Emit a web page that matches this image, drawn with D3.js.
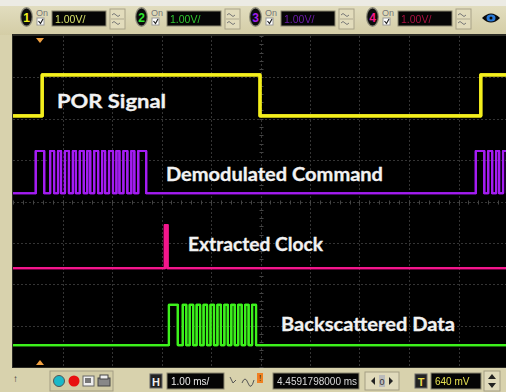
<!DOCTYPE html>
<html><head><meta charset="utf-8">
<script src="https://cdn.jsdelivr.net/npm/d3@7"></script>
<style>html,body{margin:0;padding:0;background:#d9d3ae;overflow:hidden}</style>
</head><body><svg id="scope" width="506" height="392"></svg>
<script>
// ---- Scope setup: 1.00 ms/div horizontally, 8 vertical divisions ----
const timeTicks = d3.range(0, 11);          // ms, one per division
const divTicks = d3.range(-4, 5);           // vertical divisions
const channelNumbers = ["1", "2", "3", "4"];
const channelScales = ["1.00V/", "1.00V/", "1.00V/", "1.00V/"];
const channelColors = ["#f2f01c", "#2ee62e", "#a41cf2", "#f3168c"];     // scope channel colours
const channelTextColors = ["#d6e06a", "#2fc42f", "#6a1ca6", "#a8123f"];
const traceNames = ["POR Signal", "Demodulated Command", "Extracted Clock", "Backscattered Data"];
const traceColors = ["#f4ef1c", "#a41cf2", "#f3168c", "#3cf21c"];
const timebaseText = "1.00 ms/";
const delayText = "4.4591798000 ms";
const triggerText = "640 mV";

// trace levels [low, high] in divisions
const porLevels = [2.07, 3.06];
const cmdLevels = [0.20, 1.22];
const clkLevels = [-1.61, -0.57];
const dataLevels = [-3.47, -2.50];

// intervals [start, end] (ms) during which each trace is high
const porHigh = [[0.59, 4.99], [9.45, 10.3]];
const cmdHigh = [[0.46, 0.63],
  [0.75, 0.83], [0.91, 0.97], [1.05, 1.13], [1.21, 1.27], [1.35, 1.43], [1.50, 1.56],
  [1.64, 1.72], [1.80, 1.86], [1.94, 2.02], [2.09, 2.15], [2.23, 2.31], [2.39, 2.45],
  [2.53, 2.69],
  [9.35, 9.52],
  [9.60, 9.68], [9.76, 9.82], [9.90, 9.98], [10.05, 10.3]];
const clkHigh = [[3.07, 3.12]];
const dataHigh = [[3.15, 3.33],
  [3.43, 3.50], [3.57, 3.64], [3.71, 3.78], [3.85, 3.92], [3.99, 4.06], [4.13, 4.20],
  [4.27, 4.34], [4.41, 4.48], [4.55, 4.62], [4.69, 4.76], [4.83, 4.91]];

const traces = [
  {levels: porLevels, high: porHigh, width: 3.2},
  {levels: cmdLevels, high: cmdHigh, width: 2.2},
  {levels: clkLevels, high: clkHigh, width: 2.4},
  {levels: dataLevels, high: dataHigh, width: 2.2}
];

// ---- layout ----
const W = 506, H = 392;
const screen = {left: 13, top: 36, right: 508, bottom: 367};
const x = d3.scaleLinear().domain([0, 10]).range([screen.left, screen.right]);
const y = d3.scaleLinear().domain([-4, 4]).range([screen.bottom, screen.top]);

const svg = d3.select("#scope");
const defs = svg.append("defs");

const beigeGrad = defs.append("linearGradient").attr("id", "bezel").attr("x1", 0).attr("y1", 0).attr("x2", 0).attr("y2", 1);
beigeGrad.append("stop").attr("offset", "0%").attr("stop-color", "#e4e0c4");
beigeGrad.append("stop").attr("offset", "100%").attr("stop-color", "#d4cda6");

const glow = defs.append("filter").attr("id", "glow").attr("x", "-5%").attr("y", "-20%").attr("width", "110%").attr("height", "140%");
glow.append("feGaussianBlur").attr("stdDeviation", 0.7).attr("result", "b");
const fm = glow.append("feMerge");
fm.append("feMergeNode").attr("in", "b");
fm.append("feMergeNode").attr("in", "SourceGraphic");

const soft = defs.append("filter").attr("id", "soft");
soft.append("feGaussianBlur").attr("stdDeviation", 0.35);

// bezel
svg.append("rect").attr("width", W).attr("height", H).attr("fill", "#d8d2ad");
svg.append("rect").attr("x", 0).attr("y", 0).attr("width", W).attr("height", 35).attr("fill", "url(#bezel)");
svg.append("rect").attr("x", 0).attr("y", 0).attr("width", W).attr("height", 6).attr("fill", "#ecebe4");

// screen
svg.append("rect").attr("x", screen.left - 1).attr("y", screen.top - 2).attr("width", W - screen.left + 1).attr("height", screen.bottom - screen.top + 3).attr("fill", "#2a2a24");
svg.append("rect").attr("x", screen.left).attr("y", screen.top).attr("width", W - screen.left).attr("height", screen.bottom - screen.top).attr("fill", "#000");

// grid
const grid = svg.append("g").attr("stroke", "#343434").attr("stroke-width", 1);
grid.selectAll("line.v").data(timeTicks.slice(1, 10)).join("line")
  .attr("x1", d => Math.round(x(d)) + 0.5).attr("x2", d => Math.round(x(d)) + 0.5)
  .attr("y1", screen.top).attr("y2", screen.bottom)
  .attr("stroke-dasharray", "2,2");
grid.selectAll("line.h").data(divTicks.slice(1, 8)).join("line")
  .attr("y1", d => Math.round(y(d)) + 0.5).attr("y2", d => Math.round(y(d)) + 0.5)
  .attr("x1", screen.left).attr("x2", W)
  .attr("stroke-dasharray", "2,2");
// minor ticks on the centre axes
const minorT = d3.range(0, 10.01, 0.2);
grid.selectAll("line.mt").data(minorT).join("line")
  .attr("x1", d => Math.round(x(d)) + 0.5).attr("x2", d => Math.round(x(d)) + 0.5)
  .attr("y1", Math.round(y(0)) - 1.5).attr("y2", Math.round(y(0)) + 2.5)
  .attr("stroke", "#444");
const minorV = d3.range(-4, 4.01, 0.2);
grid.selectAll("line.mv").data(minorV).join("line")
  .attr("y1", d => Math.round(y(d)) + 0.5).attr("y2", d => Math.round(y(d)) + 0.5)
  .attr("x1", Math.round(x(5)) - 1.5).attr("x2", Math.round(x(5)) + 2.5)
  .attr("stroke", "#444");

// traces
function stepPoints(t) {
  const [lo, hi] = t.levels;
  const pts = [[-0.3, lo]];
  t.high.forEach(([s, e]) => {
    pts.push([s, lo], [s, hi], [e, hi], [e, lo]);
  });
  pts.push([10.3, lo]);
  return pts;
}
const line = d3.line().x(d => x(d[0])).y(d => y(d[1]));
defs.append("clipPath").attr("id", "screenClip").append("rect")
  .attr("x", screen.left).attr("y", screen.top).attr("width", W - screen.left).attr("height", screen.bottom - screen.top);
const traceG = svg.append("g").attr("clip-path", "url(#screenClip)");
traceG.selectAll("path.trace").data(traces).join("path")
  .attr("class", "trace")
  .attr("d", d => line(stepPoints(d)))
  .attr("fill", "none")
  .attr("stroke", (d, i) => traceColors[i])
  .attr("stroke-width", d => d.width)
  .attr("stroke-linejoin", "round")
  .attr("filter", "url(#glow)");

// trace labels
const labelPos = [[57, 108], [166, 181], [188, 251], [281, 331]];
const labelWidth = [109, 217, 135, 174];
svg.selectAll("text.lbl").data(traceNames).join("text")
  .attr("class", "lbl")
  .attr("x", (d, i) => labelPos[i][0]).attr("y", (d, i) => labelPos[i][1])
  .attr("font-family", "Lato, 'Open Sans', sans-serif")
  .attr("font-weight", "bold")
  .attr("font-size", 18)
  .attr("fill", "#f2f2f2")
  .attr("stroke", "#f2f2f2").attr("stroke-width", 0.3)
  .attr("textLength", (d, i) => labelWidth[i])
  .attr("lengthAdjust", "spacingAndGlyphs")
  .text(d => d);

// trigger markers
svg.append("path").attr("d", "M36,38 L44,38 L40,43 Z").attr("fill", "#f0a040");
svg.append("path").attr("d", "M36,365 L44,365 L40,360 Z").attr("fill", "#f0a040");

// ---- top toolbar: channel controls ----
const chX = [21, 136, 250, 367];
const chG = svg.selectAll("g.ch").data(channelNumbers).join("g").attr("class", "ch")
  .attr("transform", (d, i) => `translate(${chX[i]},0)`);
chG.append("ellipse").attr("cx", 5.5).attr("cy", 17).attr("rx", 6.5).attr("ry", 10).attr("fill", "#8a8878");
chG.append("ellipse").attr("cx", 5.5).attr("cy", 17).attr("rx", 5.2).attr("ry", 8.6).attr("fill", "#0c0c0c");
chG.append("text").attr("x", 5.5).attr("y", 21.5).attr("text-anchor", "middle")
  .attr("font-family", "Arial, sans-serif").attr("font-weight", "bold").attr("font-size", 12)
  .attr("fill", (d, i) => channelColors[i]).text(d => d);
chG.append("text").attr("x", 15).attr("y", 16).attr("font-family", "Arial, sans-serif").attr("font-size", 9)
  .attr("fill", "#777").text("On");
chG.append("rect").attr("x", 16).attr("y", 18).attr("width", 7).attr("height", 7).attr("fill", "#fff").attr("stroke", "#999");
chG.append("path").attr("d", "M17.5,21 L19.5,23.5 L22,19").attr("stroke", "#222").attr("fill", "none").attr("stroke-width", 1.2);
chG.append("rect").attr("x", 31).attr("y", 11).attr("width", 54).attr("height", 15).attr("fill", "#050505").attr("stroke", "#8a8670");
chG.append("text").attr("x", 34).attr("y", 22.5).attr("font-family", "Arial, sans-serif").attr("font-size", 10.5)
  .attr("fill", (d, i) => channelTextColors[i]).attr("filter", "url(#soft)").text((d, i) => channelScales[i]);
chG.append("rect").attr("x", 89).attr("y", 9).attr("width", 15).attr("height", 20).attr("fill", "#e2dcbc").attr("stroke", "#a8a288");
chG.append("path").attr("d", "M91,15 q2,-3 4,0 t4,0 M91,23 q2,-3 4,0 t4,0").attr("stroke", "#777").attr("fill", "none");
chG.append("line").attr("x1", 90).attr("x2", 103).attr("y1", 19).attr("y2", 19).attr("stroke", "#b0aa90");

// eye icon
svg.append("path").attr("d", "M482,18 Q491,9 500,18 Q491,27 482,18 Z").attr("fill", "#0a0a0a");
svg.append("ellipse").attr("cx", 491).attr("cy", 18).attr("rx", 4.5).attr("ry", 3.6).attr("fill", "#2a7ad8");
svg.append("circle").attr("cx", 491).attr("cy", 18).attr("r", 1.5).attr("fill", "#0a0a0a");

// ---- bottom toolbar ----
const by = 370;
svg.append("text").attr("x", 13).attr("y", 382).attr("font-size", 10).attr("font-family", "Arial").attr("fill", "#333").text("\u2191");
svg.append("rect").attr("x", 50).attr("y", by + 1).attr("width", 63).attr("height", 20).attr("fill", "#d2cca6").attr("stroke", "#a49e84");
svg.append("circle").attr("cx", 59).attr("cy", 381).attr("r", 5.5).attr("fill", "#1ab8c8").attr("stroke", "#555");
svg.append("circle").attr("cx", 74).attr("cy", 381).attr("r", 5.5).attr("fill", "#e81010");
svg.append("rect").attr("x", 83).attr("y", 376).attr("width", 11).attr("height", 10).attr("fill", "#eee").attr("stroke", "#666");
svg.append("rect").attr("x", 85).attr("y", 378).attr("width", 6).attr("height", 5).attr("fill", "#777");
svg.append("rect").attr("x", 98).attr("y", 378).attr("width", 12).attr("height", 8).attr("fill", "#888").attr("stroke", "#444");
svg.append("rect").attr("x", 100).attr("y", 375).attr("width", 8).attr("height", 4).attr("fill", "#eee").attr("stroke", "#444");

function blackBox(x0, w, txt, color) {
  svg.append("rect").attr("x", x0).attr("y", 373).attr("width", w).attr("height", 16).attr("fill", "#050505").attr("stroke", "#8a8670");
  svg.append("text").attr("x", x0 + 4).attr("y", 385).attr("font-family", "Arial, sans-serif").attr("font-size", 10)
    .attr("fill", color).attr("filter", "url(#soft)").text(txt);
}
function letterBox(x0, letter, color) {
  svg.append("rect").attr("x", x0).attr("y", 374).attr("width", 12).attr("height", 14).attr("fill", "#222").attr("stroke", "#666");
  svg.append("text").attr("x", x0 + 6).attr("y", 385.5).attr("text-anchor", "middle").attr("font-family", "Arial").attr("font-weight", "bold")
    .attr("font-size", 11).attr("fill", color).text(letter);
}
letterBox(150, "H", "#eee");
blackBox(167, 57, timebaseText, "#e8e8e8");
svg.append("path").attr("d", "M230,377 l3,6 l3,-3").attr("stroke", "#555").attr("fill", "none");
svg.append("path").attr("d", "M242,383 q3,-8 6,0 t6,-3").attr("stroke", "#555").attr("fill", "none");
svg.append("rect").attr("x", 257).attr("y", 373).attr("width", 6).attr("height", 10).attr("fill", "#f08020");
svg.append("text").attr("x", 260).attr("y", 381).attr("text-anchor", "middle").attr("font-size", 8).attr("fill", "#222").text("!");
blackBox(273, 86, delayText, "#d8d8d8");
svg.append("rect").attr("x", 365).attr("y", 372).attr("width", 34).attr("height", 18).attr("fill", "#e0dabb").attr("stroke", "#a49e84");
svg.append("path").attr("d", "M371,381 l4,-4 v8 Z M393,381 l-4,-4 v8 Z").attr("fill", "#222");
svg.append("rect").attr("x", 379).attr("y", 375).attr("width", 6).attr("height", 12).attr("fill", "#bbb");
svg.append("text").attr("x", 382).attr("y", 385).attr("text-anchor", "middle").attr("font-size", 9).attr("font-family", "Arial").attr("fill", "#333").text("0");
letterBox(415, "T", "#e8d84a");
blackBox(431, 50, triggerText, "#e6e050");
svg.append("rect").attr("x", 484).attr("y", 371).attr("width", 16).attr("height", 20).attr("fill", "#e0dabb").attr("stroke", "#a49e84");
svg.append("path").attr("d", "M488,379 l4,-5 l4,5 Z M488,383 l4,5 l4,-5 Z").attr("fill", "#222");
</script>
</body></html>
